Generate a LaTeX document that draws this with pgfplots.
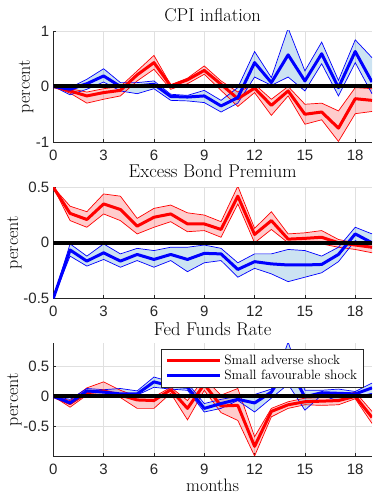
\documentclass[border=0pt]{standalone}
\usepackage{pgfplots}
\pgfplotsset{compat=1.18}
\usepackage{pgfplotstable}
\usepgfplotslibrary{fillbetween}
\usepackage{fontspec}
\newfontfamily\tickfont{Liberation Sans}
\definecolor{mblue}{rgb}{0,0.447,0.741}
\definecolor{axgray}{rgb}{0.15,0.15,0.15}

% CPI inflation
\pgfplotstableread{
m c u l
0 0 0 0
1 -0.08 -0.04 -0.12
2 -0.17 -0.10 -0.30
3 -0.11 -0.04 -0.23
4 -0.07 0.00 -0.17
5 0.21 0.28 0.10
6 0.43 0.56 0.31
7 0.01 0.03 -0.05
8 0.12 0.15 0.05
9 0.29 0.37 0.22
10 0.04 0.10 -0.07
11 -0.22 -0.10 -0.36
12 -0.03 0.04 -0.11
13 -0.34 -0.23 -0.52
14 -0.08 0.00 -0.17
15 -0.50 -0.32 -0.68
16 -0.46 -0.30 -0.60
17 -0.75 -0.44 -0.99
18 -0.22 -0.02 -0.49
19 -0.25 -0.04 -0.45
}\cpiR
\pgfplotstableread{
m c u l
0 0 0 0
1 -0.05 -0.02 -0.15
2 0.05 0.13 -0.05
3 0.19 0.32 0.08
4 0.00 0.07 -0.08
5 0.01 0.07 -0.13
6 0.04 0.10 -0.04
7 -0.18 -0.14 -0.25
8 -0.19 -0.16 -0.26
9 -0.17 -0.07 -0.29
10 -0.35 -0.25 -0.46
11 -0.20 -0.02 -0.30
12 0.43 0.63 0.17
13 0.07 0.16 0.02
14 0.57 1.05 0.17
15 0.10 0.28 -0.08
16 0.59 0.80 0.41
17 -0.02 0.11 -0.17
18 0.63 0.84 0.43
19 0.08 0.52 -0.13
}\cpiB

% Excess bond premium
\pgfplotstableread{
m c u l
0 0.50 0.50 0.50
1 0.265 0.33 0.20
2 0.21 0.28 0.14
3 0.35 0.44 0.26
4 0.30 0.42 0.20
5 0.15 0.22 0.08
6 0.23 0.31 0.14
7 0.26 0.34 0.19
8 0.17 0.27 0.10
9 0.17 0.25 0.11
10 0.12 0.19 0.05
11 0.42 0.51 0.35
12 0.075 0.13 0.00
13 0.20 0.28 0.12
14 0.033 0.08 0.00
15 0.04 0.09 -0.01
16 0.05 0.11 -0.01
17 0.00 0.03 -0.04
18 -0.02 0.00 -0.06
19 -0.04 -0.01 -0.09
}\ebpR
\pgfplotstableread{
m c u l
0 -0.50 -0.50 -0.50
1 -0.065 -0.01 -0.12
2 -0.165 -0.12 -0.21
3 -0.09 -0.01 -0.15
4 -0.165 -0.10 -0.22
5 -0.105 -0.05 -0.16
6 -0.15 -0.07 -0.22
7 -0.105 -0.04 -0.16
8 -0.15 -0.04 -0.26
9 -0.095 -0.02 -0.18
10 -0.10 -0.05 -0.16
11 -0.24 -0.18 -0.31
12 -0.17 -0.10 -0.23
13 -0.19 -0.10 -0.28
14 -0.20 -0.06 -0.35
15 -0.20 -0.07 -0.31
16 -0.195 -0.12 -0.27
17 -0.105 -0.04 -0.17
18 0.08 0.14 0.02
19 0.00 0.08 -0.05
}\ebpB

% Fed funds rate
\pgfplotstableread{
m c u l
0 0 0 0
1 -0.12 -0.07 -0.18
2 0.06 0.14 0.02
3 0.09 0.24 0.02
4 0.02 0.10 -0.02
5 -0.06 0.00 -0.20
6 -0.07 -0.01 -0.20
7 0.11 0.15 0.05
8 -0.20 -0.07 -0.39
9 0.20 0.30 0.10
10 -0.16 0.02 -0.27
11 -0.15 0.13 -0.40
12 -0.83 -0.67 -0.99
13 -0.25 -0.20 -0.34
14 -0.14 -0.09 -0.20
15 -0.09 -0.03 -0.14
16 -0.08 -0.02 -0.15
17 -0.07 -0.01 -0.14
18 0.00 0.07 -0.04
19 -0.35 -0.25 -0.45
}\ffrR
\pgfplotstableread{
m c u l
0 0 0 0
1 -0.11 -0.05 -0.13
2 0.09 0.13 0.03
3 0.07 0.11 0.03
4 0.04 0.13 -0.01
5 0.04 0.09 0.02
6 0.24 0.32 0.15
7 0.17 0.24 0.12
8 0.15 0.22 0.10
9 -0.20 -0.12 -0.26
10 -0.12 -0.05 -0.20
11 -0.05 0.00 -0.07
12 -0.11 0.03 -0.26
13 0.07 0.12 -0.03
14 0.50 0.90 0.20
15 -0.01 0.10 -0.23
16 0.06 0.10 0.02
17 0.05 0.12 -0.08
18 0.04 0.08 -0.01
19 0.14 0.22 0.05
}\ffrB

\pgfplotsset{
  panel/.style={
    scale only axis, width=318.7pt,
    xmin=0, xmax=19,
    xtick={0,3,6,9,12,15,18},
    xticklabels={0,3,6,9,12,15,18},
    axis x line*=bottom, axis y line*=left,
    axis line style={-, axgray, line width=0.6pt},
    tick align=inside, major tick length=3pt,
    tick style={axgray, line width=0.5pt},
    grid=major, major grid style={black!12, line width=0.5pt},
    tick label style={font=\tickfont\fontsize{15}{17}\selectfont, text=axgray},
    xticklabel style={yshift=-4.5pt},
    yticklabel style={xshift=-0.5pt},
    title style={font=\fontsize{18.5}{21}\selectfont, yshift=0pt},
    ylabel={percent},
    ylabel style={font=\fontsize{18}{21}\selectfont, at={(axis description cs:-0.122,0.5)}, anchor=center},
    legend image code/.code={\draw[##1] (0pt,0pt) -- (53pt,0pt);},
  },
  band/.style={draw=#1, line width=0.7pt, forget plot},
  cline/.style={draw=#1, line width=3pt, line join=round},
}

\newcommand{\bands}[2]{%
  \addplot[band=red, name path=ru] table[x=m,y=u]{#1};
  \addplot[band=red, name path=rl] table[x=m,y=l]{#1};
  \addplot[fill=red, fill opacity=0.2, draw=none, forget plot] fill between[of=ru and rl];
  \addplot[band=blue, name path=bu] table[x=m,y=u]{#2};
  \addplot[band=blue, name path=bl] table[x=m,y=l]{#2};
  \addplot[fill=mblue, fill opacity=0.2, draw=none, forget plot] fill between[of=bu and bl];
  \addplot[cline=red] table[x=m,y=c]{#1};
  \addplot[cline=blue] table[x=m,y=c]{#2};
  \addplot[black, line width=4pt, forget plot] coordinates {(0,0) (19,0)};
}

\begin{document}
\begin{tikzpicture}

\begin{axis}[panel, at={(53.3pt,352pt)}, anchor=south west, height=111pt,
  title={CPI inflation}, ymin=-1, ymax=1, ytick={-1,0,1}, yticklabels={-1,0,1},
  ylabel style={at={(axis description cs:-0.0857,0.5)}}]
\bands{\cpiR}{\cpiB}
\end{axis}

\begin{axis}[panel, at={(53.3pt,195.7pt)}, anchor=south west, height=111pt,
  title={Excess Bond Premium}, ymin=-0.5, ymax=0.5, ytick={-0.5,0,0.5}, yticklabels={-0.5,0,0.5}]
\bands{\ebpR}{\ebpB}
\end{axis}

\begin{axis}[panel, at={(53.3pt,38pt)}, anchor=south west, height=112.7pt,
  title={Fed Funds Rate}, title style={yshift=-2.5pt},
  ymin=-0.99, ymax=0.88, ytick={-0.5,0,0.5}, yticklabels={-0.5,0,0.5},
  xlabel={months},
  xlabel style={font=\fontsize{18}{21}\selectfont, at={(axis description cs:0.5,0)}, anchor=center, yshift=-29pt},
  legend cell align=left,
  legend style={at={(axis description cs:0.338,0.949)}, anchor=north west,
    draw=axgray, line width=0.6pt, fill=white,
    font=\fontsize{13.5}{16}\selectfont,
    inner xsep=4pt, inner ysep=4pt,
    nodes={inner sep=2pt},
    /tikz/every odd column/.append style={column sep=1pt}}]
\bands{\ffrR}{\ffrB}
\addlegendentry{Small adverse shock}
\addlegendentry{Small favourable shock}
\end{axis}

\pgfresetboundingbox
\useasboundingbox (0,0) rectangle (372pt,494pt);
\end{tikzpicture}
\end{document}
